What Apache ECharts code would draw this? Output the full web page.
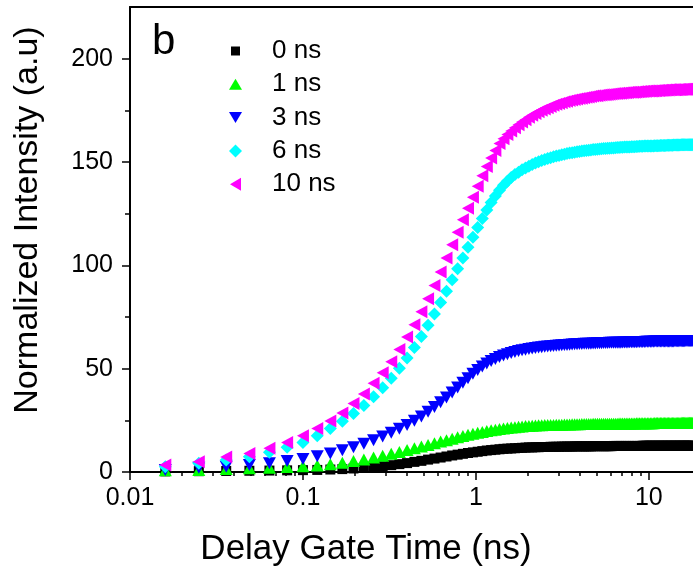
<!DOCTYPE html>
<html>
<head>
<meta charset="utf-8">
<script src="https://cdn.jsdelivr.net/npm/echarts@6/dist/echarts.min.js"></script>
<style>
  html, body { margin: 0; padding: 0; background: #fff; }
  #chart { width: 693px; height: 571px; }
</style>
</head>
<body>
<div id="chart"></div>
<script>
// Delay gate time (ns) of each measurement
const delayGate = [
  0.016,0.025,0.036,0.049,0.064,0.081,0.1,0.121,0.144,0.169,
  0.196,0.225,0.256,0.289,0.324,0.361,0.4,0.441,0.484,0.529,
  0.576,0.625,0.676,0.729,0.784,0.841,0.9,0.961,1.024,1.089,
  1.156,1.225,1.296,1.369,1.444,1.521,1.6,1.681,1.764,1.849,
  1.936,2.025,2.116,2.209,2.304,2.401,2.5,2.601,2.704,2.809,
  2.916,3.025,3.136,3.249,3.364,3.481,3.6,3.721,3.844,3.969,
  4.096,4.225,4.356,4.489,4.624,4.761,4.9,5.041,5.184,5.329,
  5.476,5.625,5.776,5.929,6.084,6.241,6.4,6.561,6.724,6.889,
  7.056,7.225,7.396,7.569,7.744,7.921,8.1,8.281,8.464,8.649,
  8.836,9.025,9.216,9.409,9.604,9.801,10,10.201,10.404,10.609,
  10.816,11.025,11.236,11.449,11.664,11.881,12.1,12.321,12.544,12.769,
  12.996,13.225,13.456,13.689,13.924,14.161,14.4,14.641,14.884,15.129,
  15.376,15.625,15.876,16.129,16.384,16.641,16.9,17.161,17.424,17.689,
  17.956
];

// Normalized intensity for each gate width
const int0ns = [
  0.3,0.4,0.5,0.6,0.7,0.8,0.9,1.0,1.2,1.4,
  1.7,2.0,2.4,2.8,3.3,3.8,4.3,4.9,5.4,6.0,
  6.5,7.0,7.5,8.0,8.4,8.8,9.2,9.5,9.8,10.1,
  10.4,10.6,10.8,11.0,11.2,11.3,11.4,11.5,11.6,11.7,
  11.8,11.9,11.9,12.0,12.0,12.1,12.1,12.1,12.2,12.2,
  12.2,12.2,12.3,12.3,12.3,12.3,12.3,12.4,12.4,12.4,
  12.4,12.4,12.4,12.4,12.4,12.5,12.5,12.5,12.5,12.5,
  12.5,12.5,12.5,12.5,12.5,12.6,12.6,12.6,12.6,12.6,
  12.6,12.6,12.6,12.6,12.6,12.6,12.6,12.6,12.6,12.6,
  12.6,12.6,12.7,12.7,12.7,12.7,12.7,12.7,12.7,12.7,
  12.7,12.7,12.7,12.7,12.7,12.7,12.7,12.7,12.7,12.7,
  12.7,12.7,12.7,12.7,12.7,12.7,12.7,12.7,12.7,12.7,
  12.7,12.7,12.7,12.7,12.7,12.7,12.7,12.7,12.7,12.7,
  12.7
];
const int1ns = [
  0.8,1.0,1.4,1.8,2.1,2.4,2.8,3.2,3.8,4.5,
  5.3,6.1,7.0,7.9,8.8,9.7,10.6,11.5,12.3,13.1,
  13.9,14.7,15.4,16.1,16.8,17.4,18.0,18.5,19.0,19.4,
  19.8,20.2,20.5,20.8,21.1,21.3,21.5,21.7,21.9,22.0,
  22.2,22.3,22.4,22.5,22.6,22.6,22.7,22.7,22.8,22.8,
  22.9,22.9,22.9,23.0,23.0,23.0,23.1,23.1,23.1,23.1,
  23.2,23.2,23.2,23.2,23.2,23.3,23.3,23.3,23.3,23.3,
  23.3,23.4,23.4,23.4,23.4,23.4,23.4,23.4,23.5,23.5,
  23.5,23.5,23.5,23.5,23.5,23.5,23.5,23.5,23.6,23.6,
  23.6,23.6,23.6,23.6,23.6,23.6,23.6,23.6,23.6,23.6,
  23.7,23.7,23.7,23.7,23.7,23.7,23.7,23.7,23.7,23.7,
  23.7,23.7,23.7,23.7,23.7,23.7,23.7,23.7,23.7,23.7,
  23.8,23.8,23.8,23.8,23.8,23.8,23.8,23.8,23.8,23.8,
  23.8
];
const int3ns = [
  1.0,2.0,2.6,3.4,4.2,5.3,6.3,7.6,9.0,10.5,
  12.0,13.7,15.4,17.2,19.0,20.9,22.8,24.8,26.9,29.1,
  31.4,33.7,36.1,38.5,40.9,43.2,45.4,47.5,49.4,51.1,
  52.5,53.7,54.7,55.6,56.4,57.0,57.6,58.1,58.5,58.9,
  59.2,59.5,59.8,60.0,60.2,60.4,60.6,60.7,60.9,61.0,
  61.1,61.2,61.3,61.4,61.5,61.6,61.7,61.8,61.8,61.9,
  61.9,62.0,62.0,62.1,62.1,62.2,62.2,62.3,62.3,62.3,
  62.4,62.4,62.4,62.5,62.5,62.5,62.6,62.6,62.6,62.6,
  62.7,62.7,62.7,62.7,62.8,62.8,62.8,62.8,62.8,62.9,
  62.9,62.9,62.9,62.9,63.0,63.0,63.0,63.0,63.0,63.0,
  63.1,63.1,63.1,63.1,63.1,63.1,63.1,63.2,63.2,63.2,
  63.2,63.2,63.2,63.2,63.2,63.3,63.3,63.3,63.3,63.3,
  63.3,63.3,63.3,63.3,63.4,63.4,63.4,63.4,63.4,63.4,
  63.4
];
const int6ns = [
  2.6,4.2,5.8,7.4,9.6,12.0,14.3,17.6,21.0,24.5,
  28.3,32.2,36.4,40.8,45.4,50.2,55.2,60.3,65.6,71.0,
  76.4,82.0,87.5,93.0,98.4,103.6,108.7,113.6,118.3,122.7,
  126.8,130.4,133.5,136.3,138.7,140.7,142.5,143.9,145.1,146.2,
  147.1,148.0,148.8,149.5,150.1,150.7,151.2,151.7,152.1,152.5,
  152.9,153.2,153.5,153.8,154.1,154.3,154.5,154.7,154.9,155.1,
  155.3,155.4,155.6,155.7,155.8,156.0,156.1,156.2,156.3,156.4,
  156.5,156.5,156.6,156.7,156.8,156.8,156.9,157.0,157.0,157.1,
  157.1,157.2,157.2,157.3,157.3,157.4,157.4,157.4,157.5,157.5,
  157.6,157.6,157.6,157.7,157.7,157.7,157.8,157.8,157.8,157.8,
  157.9,157.9,157.9,157.9,158.0,158.0,158.0,158.0,158.0,158.1,
  158.1,158.1,158.1,158.1,158.2,158.2,158.2,158.2,158.2,158.2,
  158.3,158.3,158.3,158.3,158.3,158.3,158.4,158.4,158.4,158.4,
  158.4
];
const int10ns = [
  3.4,5.0,7.2,9.0,11.5,14.3,17.5,21.0,24.7,28.6,
  33.2,37.8,43.0,48.0,53.3,59.3,65.3,71.2,77.5,83.8,
  90.3,96.8,103.5,110.0,116.0,122.0,127.6,133.0,138.3,143.3,
  147.8,151.9,155.6,158.9,161.3,163.3,165.0,166.6,168.0,169.3,
  170.5,171.6,172.6,173.5,174.3,175.0,175.7,176.3,176.9,177.4,
  177.9,178.3,178.7,179.1,179.4,179.7,180.0,180.3,180.5,180.7,
  180.9,181.1,181.3,181.5,181.7,181.9,182.0,182.1,182.3,182.4,
  182.5,182.6,182.7,182.8,182.9,183.0,183.1,183.2,183.3,183.3,
  183.4,183.5,183.5,183.6,183.7,183.7,183.8,183.8,183.9,184.0,
  184.0,184.1,184.1,184.2,184.2,184.3,184.3,184.4,184.4,184.4,
  184.5,184.5,184.6,184.6,184.6,184.7,184.7,184.7,184.8,184.8,
  184.8,184.9,184.9,184.9,185.0,185.0,185.0,185.0,185.1,185.1,
  185.1,185.1,185.2,185.2,185.2,185.2,185.3,185.3,185.3,185.3,
  185.4
];

const seriesNames = ['0 ns', '1 ns', '3 ns', '6 ns', '10 ns'];
const seriesValues = [int0ns, int1ns, int3ns, int6ns, int10ns];

// Axis ticks
const xTickValues = [0.01, 0.1, 1, 10];
const xMinorTickValues = [
  0.02, 0.03, 0.04, 0.05, 0.06, 0.07, 0.08, 0.09,
  0.2, 0.3, 0.4, 0.5, 0.6, 0.7, 0.8, 0.9,
  2, 3, 4, 5, 6, 7, 8, 9
];
const yTickValues = [0, 50, 100, 150, 200];
const yMinorTickValues = [25, 75, 125, 175];

const FONT = '"Liberation Sans", Arial, sans-serif';

// Marker style per gate width; legendIcon paths keep the same shapes inside a 13x13 box
const markerStyles = [
  { symbol: 'rect', symbolSize: 10, symbolRotate: 0, color: '#000000',
    legendIcon: 'path://M0,0M13,13M2,2L11,2L11,11L2,11Z' },
  { symbol: 'triangle', symbolSize: [13, 12], symbolRotate: 0, color: '#00ff00',
    legendIcon: 'path://M0,0M13,13M6.5,1L13,12L0,12Z' },
  { symbol: 'triangle', symbolSize: [13, 12], symbolRotate: 180, color: '#0000ff',
    legendIcon: 'path://M0,0M13,13M0,1L13,1L6.5,12Z' },
  { symbol: 'diamond', symbolSize: 13, symbolRotate: 0, color: '#00ffff',
    legendIcon: 'path://M6.5,0L13,6.5L6.5,13L0,6.5Z' },
  { symbol: 'triangle', symbolSize: [13, 12], symbolRotate: 90, color: '#ff00ff',
    legendIcon: 'path://M0,0M13,13M1,6.5L12,0L12,13Z' }
];

const series = seriesNames.map((name, i) => ({
  name: name,
  type: 'scatter',
  xAxisIndex: 0,
  yAxisIndex: 0,
  symbol: markerStyles[i].symbol,
  symbolSize: markerStyles[i].symbolSize,
  symbolRotate: markerStyles[i].symbolRotate,
  itemStyle: { color: markerStyles[i].color, opacity: 1 },
  emphasis: { disabled: true },
  data: delayGate.map((t, j) => [t, seriesValues[i][j]]),
  z: 2 + i
}));

const xRange = { min: 0.01, max: 18 };
const yRange = { min: 0, max: 225 };

const chart = echarts.init(document.getElementById('chart'), null, { renderer: 'canvas' });
chart.setOption({
  animation: false,
  backgroundColor: '#ffffff',
  grid: {
    left: 130, right: 0, top: 7, bottom: 99,
    containLabel: false,
    outerBoundsMode: 'none'
  },
  legend: {
    orient: 'vertical',
    left: 224,
    top: 33,
    itemWidth: 13,
    itemHeight: 13,
    itemGap: 7.3,
    symbolRotate: 0,
    symbolKeepAspect: true,
    selectedMode: false,
    textStyle: { fontFamily: FONT, fontSize: 26, color: '#000', padding: [0, 0, 0, 25] },
    data: seriesNames.map((name, i) => ({ name: name, icon: markerStyles[i].legendIcon }))
  },
  xAxis: [
    {
      type: 'log', logBase: 10, min: xRange.min, max: xRange.max,
      position: 'bottom',
      axisLine: { show: true, lineStyle: { color: '#000', width: 2 } },
      axisTick: { show: true, customValues: xTickValues, length: 8, lineStyle: { color: '#000', width: 1.5 } },
      axisLabel: {
        show: true, customValues: xTickValues, margin: 14,
        fontFamily: FONT, fontSize: 25, color: '#000',
        formatter: v => String(+v.toPrecision(3))
      },
      splitLine: { show: false },
      name: 'Delay Gate Time (ns)',
      nameLocation: 'middle',
      nameGap: 60,
      nameTextStyle: { fontFamily: FONT, fontSize: 35, color: '#000', padding: [0, 91, 0, 0] }
    },
    {
      type: 'log', logBase: 10, min: xRange.min, max: xRange.max,
      position: 'bottom',
      axisLine: { show: false },
      axisTick: { show: true, customValues: xMinorTickValues, length: 4, lineStyle: { color: '#000', width: 1.5 } },
      axisLabel: { show: false },
      splitLine: { show: false }
    },
    {
      type: 'log', logBase: 10, min: xRange.min, max: xRange.max,
      position: 'top',
      axisLine: { show: true, lineStyle: { color: '#000', width: 2 } },
      axisTick: { show: false },
      axisLabel: { show: false },
      splitLine: { show: false }
    }
  ],
  yAxis: [
    {
      type: 'value', min: yRange.min, max: yRange.max, interval: 50,
      position: 'left',
      axisLine: { show: true, lineStyle: { color: '#000', width: 2 } },
      axisTick: { show: true, customValues: yTickValues, length: 8, lineStyle: { color: '#000', width: 1.5 } },
      axisLabel: {
        show: true, customValues: yTickValues, margin: 17,
        fontFamily: FONT, fontSize: 25, color: '#000'
      },
      splitLine: { show: false },
      name: 'Normalized Intensity (a.u)',
      nameLocation: 'middle',
      nameGap: 85,
      nameTextStyle: { fontFamily: FONT, fontSize: 34, color: '#000', padding: [0, 0, 0, 39] }
    },
    {
      type: 'value', min: yRange.min, max: yRange.max, interval: 25,
      position: 'left', offset: 0,
      axisLine: { show: false },
      axisTick: { show: true, customValues: yMinorTickValues, length: 5, lineStyle: { color: '#000', width: 1.5 } },
      axisLabel: { show: false },
      splitLine: { show: false }
    }
  ],
  graphic: [
    {
      type: 'text',
      left: 152,
      top: 21,
      style: { text: 'b', font: '42px "Liberation Sans", Arial, sans-serif', fill: '#000' }
    }
  ],
  series: series
});
</script>
</body>
</html>
